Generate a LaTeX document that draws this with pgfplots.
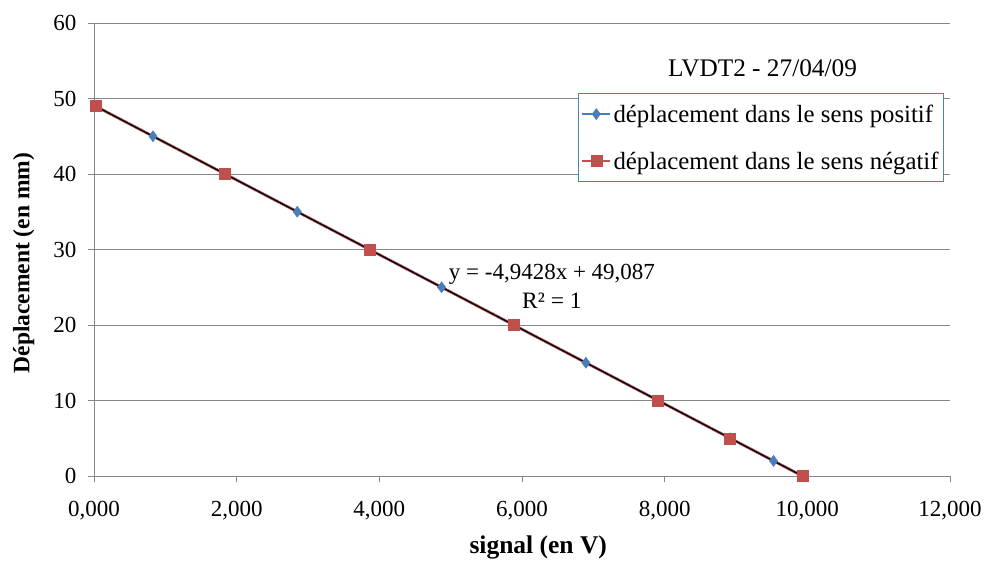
\documentclass[border=0pt]{standalone}
\usepackage{fontspec}
\setmainfont{Liberation Serif}
\usepackage{pgfplots}
\pgfplotsset{compat=1.18}
\definecolor{myblue}{RGB}{74,126,187}
\definecolor{myred}{RGB}{192,80,77}
\definecolor{gridgray}{RGB}{134,134,134}
\definecolor{legblue}{RGB}{79,129,189}
\begin{document}
\begin{tikzpicture}[x=1pt,y=1pt]
\useasboundingbox (0,0) rectangle (984,560);
\begin{axis}[
  at={(94pt,84pt)}, anchor=south west,
  scale only axis, width=856pt, height=453pt,
  xmin=0, xmax=12, ymin=0, ymax=60,
  xtick={0,2,...,12}, ytick={0,10,...,60},
  axis x line*=bottom, axis y line*=left,
  axis line style={gridgray, line width=0.8pt, -},
  ymajorgrids, grid style={gridgray, line width=0.8pt},
  major tick style={gridgray, line width=0.8pt},
  tick align=outside, major tick length=6pt,
  /pgf/number format/assume math mode=true,
  xticklabel style={/pgf/number format/fixed, /pgf/number format/fixed zerofill,
    /pgf/number format/precision=3, /pgf/number format/use comma, /pgf/number format/1000 sep={}},
  tick label style={font=\fontsize{23}{27}\selectfont, black},
  xticklabel style={yshift=-16pt},
  yticklabel style={xshift=-8pt},
  xlabel={\textbf{signal (en V)}},
  ylabel={\textbf{Déplacement (en mm)}},
  xlabel style={at={(axis description cs:0.519,-0.157)}, anchor=center, font=\fontsize{25.5}{29}\selectfont},
  ylabel style={at={(axis description cs:-0.082,0.470)}, anchor=center, rotate=0, font=\fontsize{23.5}{27}\selectfont},
  legend style={at={(rel axis cs:0.565,0.845)}, anchor=north west, draw=legblue, line width=0.8pt,
    font=\fontsize{24.8}{28}\selectfont, legend cell align=left, row sep=24pt, inner xsep=3pt, inner ysep=9pt},
  legend image code/.code={
    \draw[mark repeat=2,mark phase=2] plot coordinates {(0pt,0pt) (14pt,0pt) (28pt,0pt)};
  },
]
\addplot[myblue, line width=2.5pt, mark=diamond*, mark size=5.5pt, mark options={solid, fill=myblue, line width=0.5pt}] coordinates {
(0.018,49) (0.827,45) (1.838,40) (2.850,35) (3.862,30) (4.873,25) (5.885,20)
(6.896,15) (7.908,10) (8.919,5) (9.526,2) (9.931,0)
};
\addlegendentry{déplacement dans le sens positif}
\addplot[myred, line width=2.5pt, mark=square*, mark size=5.5pt, mark options={solid, fill=myred, line width=0.5pt}] coordinates {
(0.018,49) (1.838,40) (3.862,30) (5.885,20) (7.908,10) (8.919,5) (9.931,0)
};
\addlegendentry{déplacement dans le sens négatif}
\addplot[black, line width=1.2pt, forget plot] coordinates {(0.018,48.998) (9.931,0.000)};
\node[font=\fontsize{25.3}{29}\selectfont] at (rel axis cs:0.781,0.901) {LVDT2 - 27/04/09};
\node[font=\fontsize{23}{27}\selectfont] at (rel axis cs:0.535,0.446) {y = -4,9428x + 49,087};
\node[font=\fontsize{23.5}{27}\selectfont] at (rel axis cs:0.535,0.386) {R² = 1};
\end{axis}
\end{tikzpicture}
\end{document}
